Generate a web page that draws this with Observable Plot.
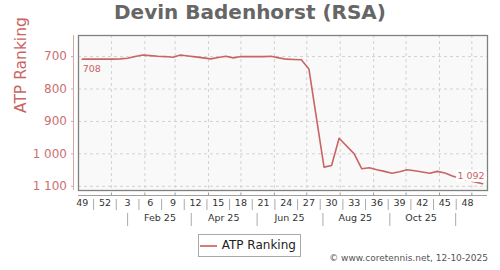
<!DOCTYPE html>
<html><head><meta charset="utf-8">
<script src="https://cdn.jsdelivr.net/npm/d3@7"></script>
<script src="https://cdn.jsdelivr.net/npm/@observablehq/plot@0.6"></script>
<style>
body{margin:0;background:#fff;font-family:"DejaVu Sans";}
#wrap{position:relative;width:500px;height:270px;overflow:hidden;background:#fff;}
#chart{position:absolute;left:0;top:0;}
#title{position:absolute;left:0;top:0.5px;width:500px;text-align:center;font:bold 20px/23px "DejaVu Sans";color:#666;}
#legend{position:absolute;left:198px;top:234px;width:101px;height:21px;border:1px solid #aaa;background:#fff;}
#legend .ln{position:absolute;left:1px;top:10px;width:17px;height:2px;background:#d67a7a;}
#legend .tx{position:absolute;left:22.7px;top:0;font:12px/21px "DejaVu Sans";color:#222;white-space:nowrap;}
#caption{position:absolute;right:12px;top:253.4px;font:9px/11px "DejaVu Sans";color:#555;white-space:nowrap;}
</style></head><body>
<div id="wrap">
<div id="chart"></div>
<div id="title">Devin Badenhorst (RSA)</div>
<div id="legend"><div class="ln"></div><div class="tx">ATP Ranking</div></div>
<div id="caption">© www.coretennis.net, 12-10-2025</div>
</div>
<script>
// ranking weeks (mid-week dates) and ATP ranking values
const rankDates = ["2024-12-05","2024-12-12","2024-12-19","2024-12-26","2025-01-02","2025-01-09","2025-01-16","2025-01-23","2025-01-30","2025-02-06","2025-02-13","2025-02-20","2025-02-27","2025-03-06","2025-03-13","2025-03-20","2025-03-27","2025-04-03","2025-04-10","2025-04-17","2025-04-24","2025-05-01","2025-05-08","2025-05-15","2025-05-22","2025-05-29","2025-06-05","2025-06-12","2025-06-19","2025-06-26","2025-07-03","2025-07-17","2025-07-24","2025-07-31","2025-08-14","2025-08-21","2025-08-28","2025-09-04","2025-09-11","2025-09-18","2025-09-25","2025-10-02","2025-10-09","2025-10-16","2025-10-23","2025-10-30","2025-11-06","2025-11-13","2025-11-20","2025-11-27","2025-12-04","2025-12-11"];
const ranks = [708,708,708,708,708,707,705,700,695,697,699,700,702,695,698,701,704,707,703,699,704,700,700,700,700,699,704,708,709,710,738,1041,1036,952,1000,1046,1043,1049,1054,1060,1055,1049,1052,1056,1060,1054,1059,1068,1076,1082,1087,1092];
// week-number tick row
const weekTickDates = ["2024-12-05","2024-12-26","2025-01-16","2025-02-06","2025-02-27","2025-03-20","2025-04-10","2025-05-01","2025-05-22","2025-06-12","2025-07-03","2025-07-24","2025-08-14","2025-09-04","2025-09-25","2025-10-16","2025-11-06","2025-11-27"];
const weekTickLabels = ["49","52","3","6","9","12","15","18","21","24","27","30","33","36","39","42","45","48"];
// month row
const monthLabelDates = ["2025-02-15","2025-04-15","2025-06-15","2025-08-15","2025-10-15"];
const monthLabels = ["Feb 25","Apr 25","Jun 25","Aug 25","Oct 25"];
const monthSepDates = ["2025-01-16","2025-03-16","2025-05-16","2025-07-16","2025-09-16","2025-11-16"];
const monthStartDates = ["2025-01-01","2025-02-01","2025-03-01","2025-04-01","2025-05-01","2025-06-01","2025-07-01","2025-08-01","2025-09-01","2025-10-01","2025-11-01","2025-12-01"];
const yTicks = [700,800,900,1000,1100];

const parse = d3.utcParse("%Y-%m-%d");
const data = rankDates.map((d, i) => ({date: parse(d), rank: ranks[i]}));
const wTicks = weekTickDates.map(parse);
const wSeps = d3.pairs(wTicks).map(([a, b]) => new Date((+a + +b) / 2));
const mLabels = monthLabelDates.map(parse);
const mSeps = monthSepDates.map(parse);
const mStarts = monthStartDates.map(parse);
const fmt = d => d3.format(",")(d).replace(/,/g, " ");

const X0 = new Date("2024-12-01T12:00:00Z"), X1 = new Date("2025-12-15T12:00:00Z");
const Y0 = 635, Y1 = 1113;
const RED = "#c96464";
const first = data[0], last = data[data.length - 1];

const chart = Plot.plot({
  width: 500, height: 270,
  marginLeft: 78, marginRight: 13, marginTop: 35, marginBottom: 80,
  style: {fontFamily: "DejaVu Sans", background: "transparent", overflow: "visible"},
  x: {type: "utc", domain: [X0, X1]},
  y: {domain: [Y0, Y1], reverse: true},
  marks: [
    Plot.frame({fill: "#f9f9f9", stroke: null}),
    Plot.ruleY(yTicks, {stroke: "#d2d2d2", strokeDasharray: "3,3"}),
    Plot.ruleX(mStarts, {stroke: "#d2d2d2", strokeDasharray: "3,3"}),
    Plot.frame({stroke: "#808080", strokeWidth: 1.3}),
    Plot.ruleX([X0], {dx: -5, stroke: "#dca5a5"}),
    Plot.ruleY([Y1], {dy: 5, stroke: "#a0a0a0"}),
    Plot.axisY({ticks: yTicks, tickSize: 2, tickPadding: 4.5, dx: -5, fontSize: 12, fill: "#cc7070", stroke: "#dca5a5", tickFormat: fmt, label: null}),
    Plot.text(["ATP Ranking"], {frameAnchor: "left", dx: -57, rotate: -90, fontSize: 15.5, fill: RED}),
    Plot.axisX(mStarts, {tickSize: 2.5, dy: 2.5, tickFormat: () => "", stroke: "#999", label: null}),
    Plot.axisX(wSeps, {tickSize: 11, dy: 9, tickFormat: () => "", stroke: "#aaa", label: null}),
    Plot.axisX(mSeps, {tickSize: 13, dy: 23, tickFormat: () => "", stroke: "#aaa", label: null}),
    Plot.text(wTicks, {x: d => d, text: (d, i) => weekTickLabels[i], frameAnchor: "bottom", dy: 15, fontSize: 9.5, fill: "#333"}),
    Plot.text(mLabels, {x: d => d, text: (d, i) => monthLabels[i], frameAnchor: "bottom", dy: 30.5, fontSize: 9.5, fill: "#333"}),
    Plot.line(data, {x: "date", y: "rank", stroke: RED, strokeWidth: 1.6}),
    Plot.text([first], {x: "date", y: "rank", text: d => fmt(d.rank), textAnchor: "start", dx: 0.5, dy: 9.5, fontSize: 9.5, fill: RED}),
    Plot.text([last], {x: "date", y: "rank", text: d => fmt(d.rank), textAnchor: "end", dx: 2, dy: -8, fontSize: 9.5, fill: RED, stroke: "#ffffff", strokeWidth: 6, paintOrder: "stroke"})
  ]
});
document.getElementById("chart").appendChild(chart);
</script>
</body></html>
